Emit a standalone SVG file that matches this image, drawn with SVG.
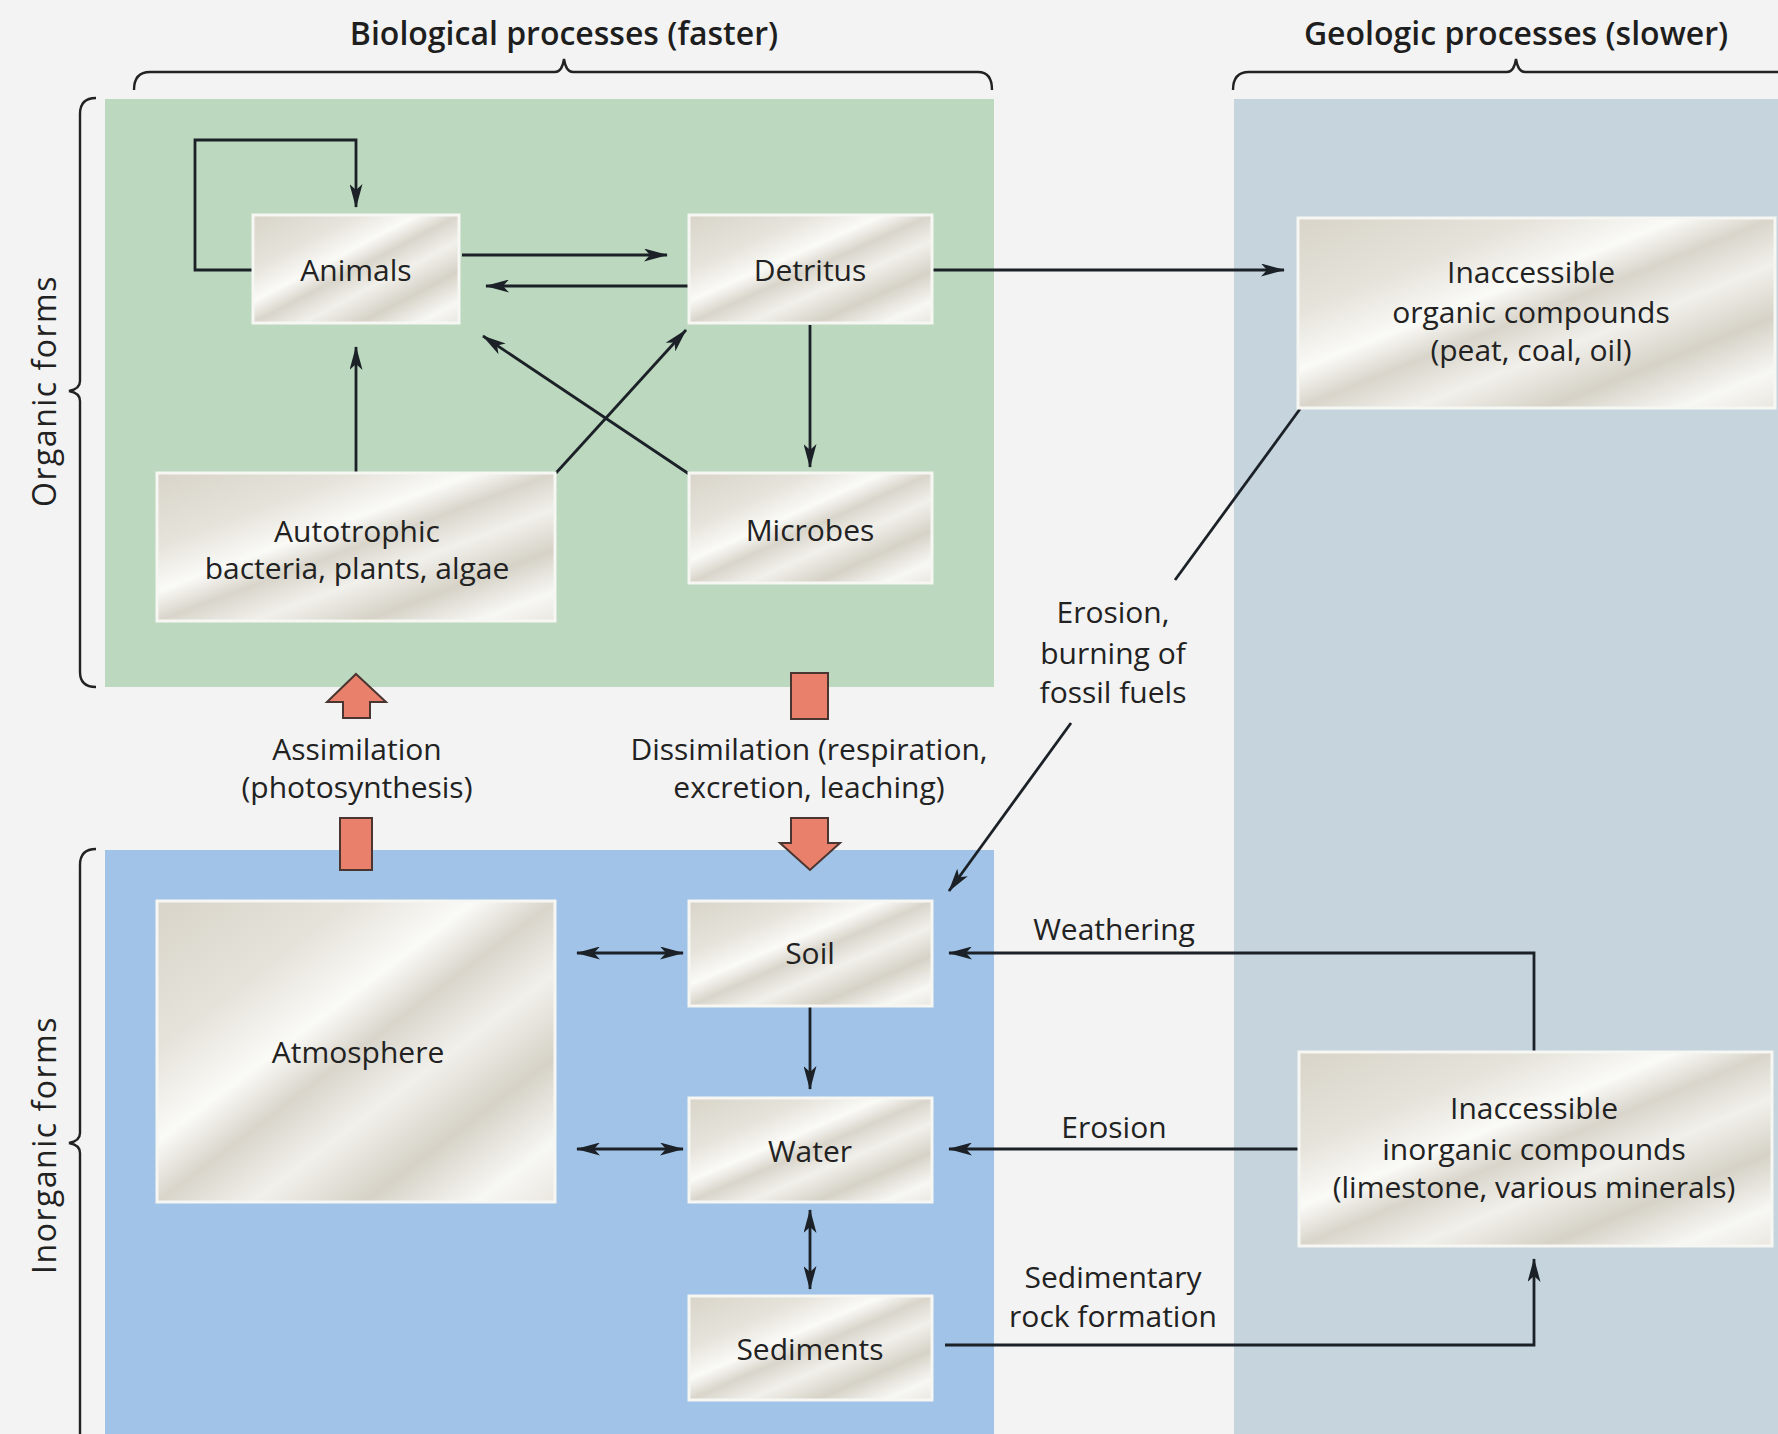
<svg xmlns="http://www.w3.org/2000/svg" width="1778" height="1434" viewBox="0 0 1778 1434">
<defs>
<linearGradient id="metal" x1="0" y1="0" x2="1" y2="1">
<stop offset="0" stop-color="#d8d4c9"/>
<stop offset="0.25" stop-color="#e6e3db"/>
<stop offset="0.4" stop-color="#fafaf7"/>
<stop offset="0.5" stop-color="#d9d5cb"/>
<stop offset="0.62" stop-color="#f1f0eb"/>
<stop offset="0.76" stop-color="#d6d2c7"/>
<stop offset="0.9" stop-color="#f7f7f4"/>
<stop offset="1" stop-color="#eae7e0"/>
</linearGradient>
<marker id="ah" viewBox="0 0 24 13" refX="23" refY="6.5" markerWidth="24" markerHeight="13" markerUnits="userSpaceOnUse" orient="auto-start-reverse">
<path d="M0,0 L24,6.5 L0,13 L6,6.5 z" fill="#1b2127"/>
</marker>
<style>
.box{fill:url(#metal);stroke:#f6f6f2;stroke-width:3;}
.t{font-family:"Open Sans","Liberation Sans",sans-serif;font-size:30px;fill:#222;text-anchor:middle;}
.side{font-family:"Open Sans","Liberation Sans",sans-serif;font-size:32px;font-weight:500;letter-spacing:1.5px;fill:#222;text-anchor:middle;}
.title{font-family:"Open Sans","Liberation Sans",sans-serif;font-size:32px;font-weight:600;fill:#1e1e1e;text-anchor:middle;}
.c{fill:none;stroke:#1b2127;stroke-width:2.8;}
.a{marker-end:url(#ah);}
.b{marker-start:url(#ah);marker-end:url(#ah);}
.brace{fill:none;stroke:#222;stroke-width:2.4;}
.big{fill:#e8806b;stroke:#4a3530;stroke-width:2;}
</style>
</defs>
<rect width="1778" height="1434" fill="#f3f3f3"/>
<g id="panels">
<rect x="105" y="99" width="889" height="588" fill="#bcd8bf"/>
<rect x="1234" y="99" width="544" height="1335" fill="#c6d4de"/>
<rect x="105" y="850" width="889" height="584" fill="#a0c3e7"/>
</g>
<g id="braces">
<path class="brace" d="M134,90 Q134,72 150,72 L555,72 Q562,72 564,59 Q566,72 573,72 L978,72 Q992,72 992,90"/>
<path class="brace" d="M1233,90 Q1233,72 1249,72 L1507,72 Q1514,72 1516,59 Q1518,72 1525,72 L1778,72"/>
<path class="brace" d="M96,98 Q80,98 80,114 L80,381 Q80,389 69,391 Q80,393 80,401 L80,672 Q80,687 96,687"/>
<path class="brace" d="M96,849 Q80,849 80,865 L80,1133 Q80,1141 69,1143 Q80,1145 80,1153 L80,1434"/>
</g>
<g id="labels">
<text class="title" x="564" y="45">Biological processes (faster)</text>
<text class="title" x="1516" y="45">Geologic processes (slower)</text>
<text class="side" transform="translate(56,391) rotate(-90)">Organic forms</text>
<text class="side" transform="translate(56,1145) rotate(-90)">Inorganic forms</text>
<text class="t" x="357" y="760">Assimilation</text>
<text class="t" x="357" y="798">(photosynthesis)</text>
<text class="t" x="809" y="760">Dissimilation (respiration,</text>
<text class="t" x="809" y="798">excretion, leaching)</text>
<text class="t" x="1113" y="623">Erosion,</text>
<text class="t" x="1113" y="664">burning of</text>
<text class="t" x="1113" y="703">fossil fuels</text>
<text class="t" x="1114" y="940">Weathering</text>
<text class="t" x="1114" y="1138">Erosion</text>
<text class="t" x="1113" y="1288">Sedimentary</text>
<text class="t" x="1113" y="1327">rock formation</text>
</g>
<g id="connectors">
<path class="c a" d="M252,270 L195,270 L195,140 L356,140 L356,207"/>
<path class="c a" d="M462,255 L667,255"/>
<path class="c a" d="M689,286 L486,286"/>
<path class="c a" d="M932,270 L1284,270"/>
<path class="c a" d="M810,325 L810,467"/>
<path class="c a" d="M356,473 L356,347"/>
<path class="c a" d="M556,473 L686,330"/>
<path class="c a" d="M689,474 L483,336"/>
<path class="c" d="M1300,409 L1175,580"/>
<path class="c a" d="M1071,723 L949,891"/>
<path class="c b" d="M577,953 L683,953"/>
<path class="c b" d="M577,1149 L683,1149"/>
<path class="c a" d="M810,1007 L810,1089"/>
<path class="c b" d="M810,1210 L810,1289"/>
<path class="c a" d="M1534,1052 L1534,953 L949,953"/>
<path class="c a" d="M1298,1149 L949,1149"/>
<path class="c a" d="M945,1345 L1534,1345 L1534,1259"/>
</g>
<g id="bigarrows">
<path class="big" d="M356,674 L386,702 L370,702 L370,718 L343,718 L343,702 L327,702 Z"/>
<rect class="big" x="340" y="818" width="32" height="52"/>
<rect class="big" x="791" y="673" width="37" height="46"/>
<path class="big" d="M791,818 L828,818 L828,843 L840,843 L810,870 L780,843 L791,843 Z"/>
</g>
<g id="n-animals"><rect class="box" x="253" y="215" width="206" height="108"/><text class="t" x="356" y="281">Animals</text></g>
<g id="n-detritus"><rect class="box" x="689" y="215" width="243" height="108"/><text class="t" x="810" y="281">Detritus</text></g>
<g id="n-inorg-org"><rect class="box" x="1298" y="218" width="477" height="190"/><text class="t" x="1531" y="283">Inaccessible</text><text class="t" x="1531" y="323">organic compounds</text><text class="t" x="1531" y="361">(peat, coal, oil)</text></g>
<g id="n-autotrophic"><rect class="box" x="157" y="473" width="398" height="148"/><text class="t" x="357" y="542">Autotrophic</text><text class="t" x="357" y="579">bacteria, plants, algae</text></g>
<g id="n-microbes"><rect class="box" x="689" y="473" width="243" height="110"/><text class="t" x="810" y="541">Microbes</text></g>
<g id="n-atmosphere"><rect class="box" x="157" y="901" width="398" height="301"/><text class="t" x="358" y="1063">Atmosphere</text></g>
<g id="n-soil"><rect class="box" x="689" y="901" width="243" height="105"/><text class="t" x="810" y="964">Soil</text></g>
<g id="n-water"><rect class="box" x="689" y="1098" width="243" height="104"/><text class="t" x="810" y="1162">Water</text></g>
<g id="n-sediments"><rect class="box" x="689" y="1296" width="243" height="104"/><text class="t" x="810" y="1360">Sediments</text></g>
<g id="n-inacc-inorg"><rect class="box" x="1299" y="1052" width="473" height="194"/><text class="t" x="1534" y="1119">Inaccessible</text><text class="t" x="1534" y="1160">inorganic compounds</text><text class="t" x="1534" y="1198">(limestone, various minerals)</text></g>
</svg>
